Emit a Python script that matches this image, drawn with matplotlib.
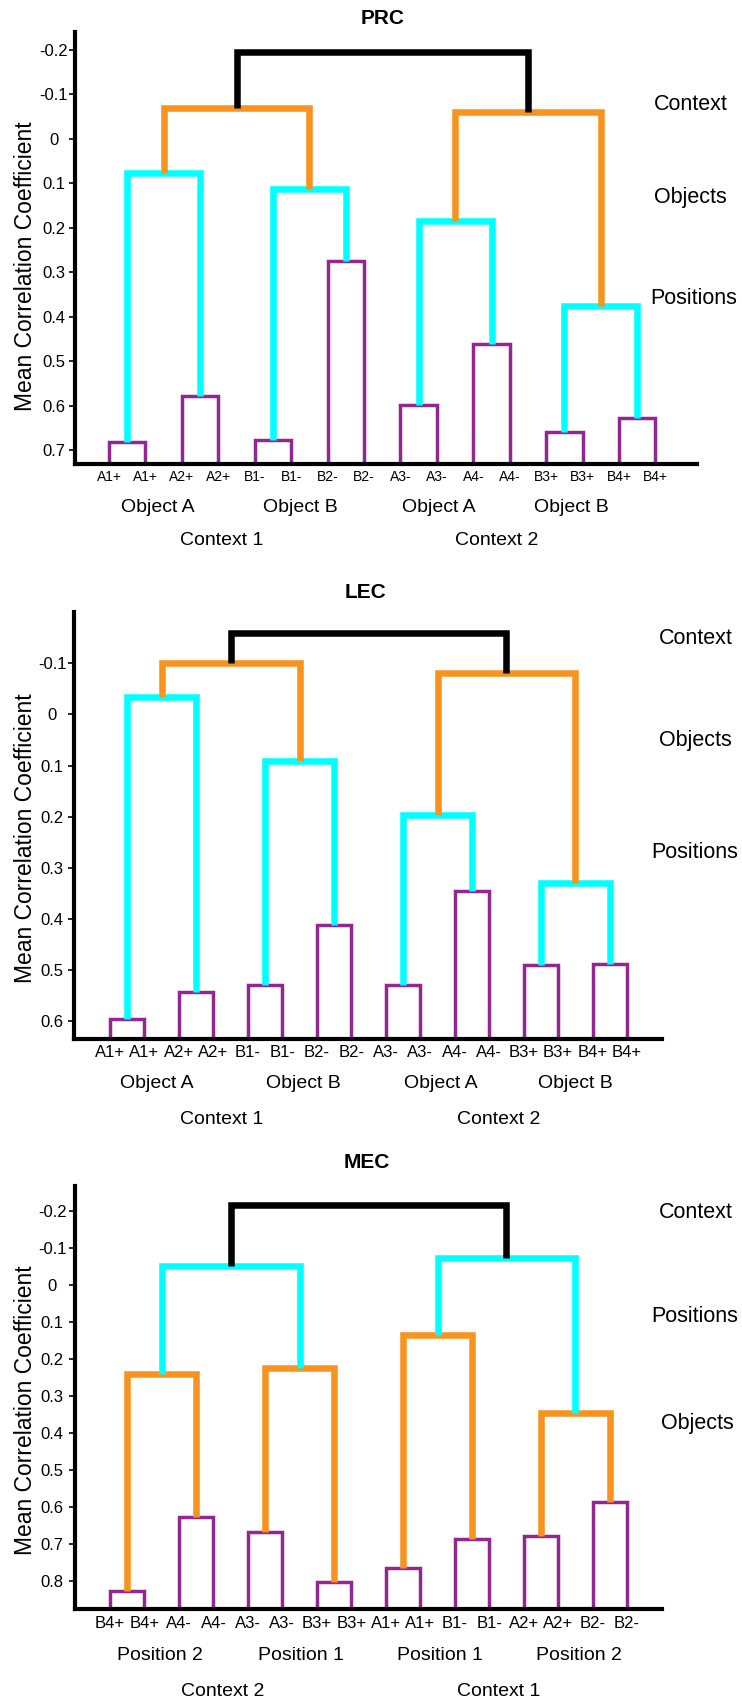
import matplotlib
matplotlib.use("Agg")
import matplotlib.pyplot as plt
from matplotlib import font_manager
from matplotlib.transforms import blended_transform_factory

# ---- data -----------------------------------------------------------------
prc_leaves = ["A1+", "A1+", "A2+", "A2+", "B1-", "B1-", "B2-", "B2-",
              "A3-", "A3-", "A4-", "A4-", "B3+", "B3+", "B4+", "B4+"]
prc_pairs = [0.682, 0.578, 0.676, 0.274, 0.597, 0.462, 0.658, 0.627]
prc_level2 = [0.077, 0.113, 0.185, 0.375]
prc_level3 = [-0.069, -0.061]
prc_root = [-0.195]
prc_yticks = [-0.2, -0.1, 0, 0.1, 0.2, 0.3, 0.4, 0.5, 0.6, 0.7]
prc_groups = ["Object A", "Object B", "Object A", "Object B"]
prc_contexts = ["Context 1", "Context 2"]
prc_levels = ["Context", "Objects", "Positions"]

lec_leaves = prc_leaves
lec_pairs = [0.596, 0.544, 0.529, 0.412, 0.529, 0.345, 0.490, 0.489]
lec_level2 = [-0.034, 0.092, 0.197, 0.329]
lec_level3 = [-0.101, -0.082]
lec_root = [-0.160]
lec_yticks = [-0.1, 0, 0.1, 0.2, 0.3, 0.4, 0.5, 0.6]
lec_groups = ["Object A", "Object B", "Object A", "Object B"]
lec_contexts = ["Context 1", "Context 2"]
lec_levels = ["Context", "Objects", "Positions"]

mec_leaves = ["B4+", "B4+", "A4-", "A4-", "A3-", "A3-", "B3+", "B3+",
              "A1+", "A1+", "B1-", "B1-", "A2+", "A2+", "B2-", "B2-"]
mec_pairs = [0.826, 0.628, 0.668, 0.804, 0.764, 0.687, 0.678, 0.586]
mec_level2 = [0.240, 0.224, 0.135, 0.347]
mec_level3 = [-0.052, -0.074]
mec_root = [-0.216]
mec_yticks = [-0.2, -0.1, 0, 0.1, 0.2, 0.3, 0.4, 0.5, 0.6, 0.7, 0.8]
mec_groups = ["Position 2", "Position 1", "Position 1", "Position 2"]
mec_contexts = ["Context 2", "Context 1"]
mec_levels = ["Context", "Positions", "Objects"]

# ---- styling ----------------------------------------------------------------
PURPLE = "#93278f"
CYAN = "#00ffff"
ORANGE = "#f7931e"
BLACK = "#000000"

W, H = 742, 1702
names = {f.name for f in font_manager.fontManager.ttflist}
SANS = "Liberation Sans" if "Liberation Sans" in names else "DejaVu Sans"
NARROW = "Liberation Sans Narrow" if "Liberation Sans Narrow" in names else SANS
plt.rcParams["font.family"] = [SANS, "DejaVu Sans"]

fig = plt.figure(figsize=(W / 100, H / 100), dpi=100)


def fy(y):
    return 1 - y / H


def draw_panel(box, ylim, xlim, leaves, levels, colors, yticks, tick_pad,
               leaf_font, leaf_size):
    left, right, top, bottom = box
    ax = fig.add_axes([left / W, 1 - bottom / H, (right - left) / W,
                       (bottom - top) / H])
    ax.set_xlim(*xlim)
    ax.set_ylim(*ylim)  # inverted: larger values at the bottom

    xs = list(range(1, len(leaves) + 1))
    ys = [ylim[0]] * len(leaves)
    for heights, col in zip(levels, colors):
        lw = 2.5 if col == PURPLE else 4.7
        nx, ny = [], []
        for k, h in enumerate(heights):
            xl, xr = xs[2 * k], xs[2 * k + 1]
            yl, yr = ys[2 * k], ys[2 * k + 1]
            ax.plot([xl, xl, xr, xr], [yl, h, h, yr], color=col, lw=lw,
                    solid_joinstyle="miter", solid_capstyle="butt")
            nx.append((xl + xr) / 2)
            ny.append(h)
        xs, ys = nx, ny

    for s in ("top", "right"):
        ax.spines[s].set_visible(False)
    for s in ("left", "bottom"):
        ax.spines[s].set_linewidth(3)
        ax.spines[s].set_color("black")

    ax.set_xticks(range(1, len(leaves) + 1))
    ax.set_xticklabels(leaves, fontfamily=leaf_font, fontsize=leaf_size)
    ax.tick_params(axis="x", length=0, pad=4.5)
    ax.set_yticks(yticks)
    ax.set_yticklabels(["0" if v == 0 else f"{v:.1f}" for v in yticks],
                       fontfamily=NARROW, fontsize=12)
    for t in ax.get_yticklabels():
        t.set_ha("center")
    ax.tick_params(axis="y", length=4, width=1.2, pad=tick_pad)
    return ax


def annotate(ax, title, title_xy, groups, group_x, group_y, contexts,
             context_x, context_y, ylabel_y, levels, level_pos):
    fig.text(title_xy[0] / W, fy(title_xy[1]), title, ha="center",
             va="center", fontsize=15, fontweight="bold")
    tr = blended_transform_factory(ax.transData, fig.transFigure)
    for g, x in zip(groups, group_x):
        ax.text(x, fy(group_y), g, transform=tr, ha="center", va="center",
                fontsize=14)
    for c, x in zip(contexts, context_x):
        ax.text(x, fy(context_y), c, transform=tr, ha="center", va="center",
                fontsize=14)
    fig.text(26 / W, fy(ylabel_y), "Mean Correlation Coefficient",
             rotation=90, ha="center", va="center", fontsize=16.5)
    for lab, (x, y) in zip(levels, level_pos):
        fig.text(x / W, fy(y), lab, ha="left", va="center", fontsize=15.5)


# PRC
ax1 = draw_panel((75, 697, 32, 464), (0.7307, -0.2405), (0.067, 17.14),
                 prc_leaves,
                 [prc_pairs, prc_level2, prc_level3, prc_root],
                 [PURPLE, CYAN, ORANGE, BLACK], prc_yticks, 11.3,
                 SANS, 10)
annotate(ax1, "PRC", (383, 18), prc_groups, [2.33, 6.26, 10.04, 13.7], 507,
         prc_contexts, [4.09, 11.63], 540, 266,
         prc_levels, [(654, 104), (654, 197), (650, 298)])

# LEC
ax2 = draw_panel((74.3, 661.6, 612, 1039), (0.635, -0.2004), (-0.036, 17.0),
                 lec_leaves,
                 [lec_pairs, lec_level2, lec_level3, lec_root],
                 [PURPLE, CYAN, ORANGE, BLACK], lec_yticks, 12,
                 NARROW, 12)
annotate(ax2, "LEC", (365, 593), lec_groups, [2.37, 6.6, 10.6, 14.5], 1083,
         lec_contexts, [4.25, 12.26], 1119, 838,
         lec_levels, [(659, 638), (659, 741), (651, 852)])

# MEC
ax3 = draw_panel((75, 661.6, 1185.7, 1609.3), (0.8765, -0.2684),
                 (-0.015, 17.0), mec_leaves,
                 [mec_pairs, mec_level2, mec_level3, mec_root],
                 [PURPLE, ORANGE, CYAN, BLACK], mec_yticks, 12.5,
                 NARROW, 12)
annotate(ax3, "MEC", (367, 1163), mec_groups, [2.46, 6.53, 10.57, 14.6], 1655,
         mec_contexts, [4.28, 12.27], 1691, 1410,
         mec_levels, [(659, 1212), (651, 1316), (661, 1423)])

fig.savefig("out.png", dpi=100)
